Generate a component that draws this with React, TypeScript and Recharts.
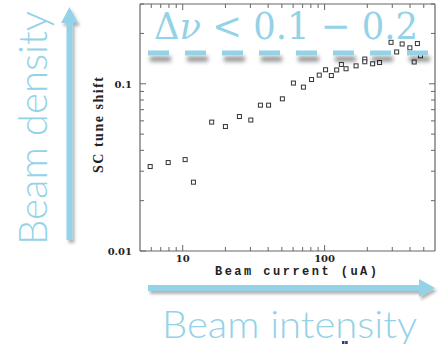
import React from 'react'
import { ScatterChart, Scatter, XAxis, YAxis } from 'recharts'

const CURRENT = [5.9, 7.9, 10.4, 11.9, 16.0, 20.0, 25.1, 30.2, 35.3, 40.3, 50.4, 60.3, 70.9, 80.9, 91.7, 101.6, 111.6, 121.7, 131.3, 141.6, 166.7, 192, 192, 218, 244, 294, 322, 352, 399, 428, 451, 474]
const TUNE_SHIFT = [0.032, 0.0338, 0.0352, 0.0258, 0.059, 0.0555, 0.0637, 0.0607, 0.0745, 0.0745, 0.0813, 0.101, 0.0955, 0.106, 0.1127, 0.1213, 0.112, 0.121, 0.1305, 0.123, 0.128, 0.1406, 0.1354, 0.1317, 0.134, 0.177, 0.155, 0.173, 0.164, 0.135, 0.174, 0.147]

const X_TICKS = [6, 7, 8, 9, 10, 20, 30, 40, 50, 60, 70, 80, 90, 100, 200, 300, 400, 500]
const X_LABELS = [10, 100]
const Y_TICKS = [0.02, 0.03, 0.04, 0.05, 0.06, 0.07, 0.08, 0.09, 0.1, 0.2, 0.3]
const Y_LABELS = [0.01, 0.1]

const data = CURRENT.map((c, i) => ({ current: c, shift: TUNE_SHIFT[i] }))

const FRAME = '#666'
const BLUE = '#93d2e7'
const tickFont = { fontFamily: '"DejaVu Serif", serif', fontWeight: 700, fontSize: 10, fill: '#222' }

const XTick = (props: any) => {
  const { x, y, payload, top } = props
  const major = X_LABELS.includes(payload.value)
  const len = major ? 6 : 4
  return (
    <g>
      <line x1={x} x2={x} y1={y} y2={top ? y + len : y - len} stroke={FRAME} />
      {!top && major && (
        <text x={x} y={y + 11} textAnchor="middle" {...tickFont}>{payload.value}</text>
      )}
    </g>
  )
}

const YTick = (props: any) => {
  const { x, y, payload, right } = props
  const major = Y_LABELS.includes(payload.value)
  const len = major ? 6 : 4
  return (
    <g>
      <line x1={x} x2={right ? x - len : x + len} y1={y} y2={y} stroke={FRAME} />
      {!right && major && (
        <text x={x - 8} y={y + 4} textAnchor="end" {...tickFont}>{payload.value}</text>
      )}
    </g>
  )
}

const Square = (props: any) => {
  const { cx, cy } = props
  return <rect x={cx - 2} y={cy - 2} width={4} height={4} fill="#fff" stroke="#333" strokeWidth={1} />
}

const Nothing = () => <g />

export default function App() {
  return (
    <div style={{ position: 'absolute', left: 0, top: 0, width: 443, height: 344, background: '#fff' }}>
      <ScatterChart width={443} height={344} margin={{ top: 3, right: 7, left: 100, bottom: 63 }}>
        <XAxis
          dataKey="current"
          type="number"
          scale="log"
          domain={[5, 600]}
          allowDataOverflow
          ticks={X_TICKS}
          interval={0}
          height={30}
          tickSize={0}
          tickMargin={0}
          stroke={FRAME}
          strokeWidth={1.2}
          tick={<XTick />}
          label={{
            content: () => (
              <text x={296} y={275} textAnchor="middle" fontFamily='"Liberation Mono", monospace' fontWeight={700} fontSize={12} fill="#222" textLength={162}>
                Beam current (uA)
              </text>
            ),
          }}
        />
        <XAxis
          xAxisId="top"
          dataKey="current"
          orientation="top"
          type="number"
          scale="log"
          domain={[5, 600]}
          allowDataOverflow
          ticks={X_TICKS}
          interval={0}
          height={1}
          tickSize={0}
          tickMargin={0}
          stroke={FRAME}
          strokeWidth={1.2}
          tick={<XTick top />}
        />
        <YAxis
          dataKey="shift"
          type="number"
          scale="log"
          domain={[0.01, 0.3]}
          allowDataOverflow
          ticks={[0.01, ...Y_TICKS]}
          interval={0}
          width={40}
          tickSize={0}
          tickMargin={0}
          stroke={FRAME}
          strokeWidth={1.2}
          tick={<YTick />}
          label={{
            content: () => (
              <text x={103} y={125} transform="rotate(-90 103 125)" textAnchor="middle" fontFamily='"Liberation Serif", serif' fontWeight={700} fontSize={14} fill="#222" textLength={96}>
                SC tune shift
              </text>
            ),
          }}
        />
        <YAxis
          yAxisId="right"
          dataKey="shift"
          orientation="right"
          type="number"
          scale="log"
          domain={[0.01, 0.3]}
          allowDataOverflow
          ticks={Y_TICKS}
          interval={0}
          width={1}
          tickSize={0}
          tickMargin={0}
          stroke={FRAME}
          strokeWidth={1.2}
          tick={<YTick right />}
        />
        <Scatter data={data} shape={<Square />} isAnimationActive={false} />
        {/* invisible copy so the mirrored top/right axes get drawn */}
        <Scatter data={data} xAxisId="top" yAxisId="right" shape={<Nothing />} isAnimationActive={false} />
      </ScatterChart>

      {/* slide annotations drawn on top of the figure */}
      <svg width={443} height={344} style={{ position: 'absolute', left: 0, top: 0, pointerEvents: 'none' }}>
        <defs>
          <filter id="sh" filterUnits="userSpaceOnUse" x={0} y={0} width={443} height={344}>
            <feDropShadow dx={2} dy={3} stdDeviation={1.5} floodColor="#000" floodOpacity={0.3} />
          </filter>
          <filter id="shLine" filterUnits="userSpaceOnUse" x={0} y={0} width={443} height={344}>
            <feDropShadow dx={2} dy={6} stdDeviation={2} floodColor="#000" floodOpacity={0.45} />
          </filter>
        </defs>
        <path d="M66.5,240 L66.5,23 L61,23 L69.5,7 L78,23 L72.5,23 L72.5,240 Z" fill={BLUE} filter="url(#sh)" />
        <path d="M148,285 L419,285 L419,279 L435,288 L419,297 L419,291 L148,291 Z" fill={BLUE} filter="url(#sh)" />
        <line x1={148} x2={430} y1={53} y2={53} stroke={BLUE} strokeWidth={5} strokeDasharray="21 16" filter="url(#shLine)" />
        <text x={47} y={128} transform="rotate(-90 47 128)" textAnchor="middle" fontFamily="Lato, 'Open Sans', sans-serif" fontWeight={300} fontSize={39} fill={BLUE} textLength={234} lengthAdjust="spacingAndGlyphs">
          Beam density
        </text>
        <text x={162} y={338} fontFamily="Lato, 'Open Sans', sans-serif" fontWeight={300} fontSize={37} fill={BLUE} textLength={255} lengthAdjust="spacingAndGlyphs">
          Beam intensity
        </text>
        <text x={154} y={39} fontFamily='"DejaVu Serif", serif' fontSize={38} fill={BLUE} textLength={264} lengthAdjust="spacingAndGlyphs">
          Δ<tspan fontStyle="italic">ν</tspan> &lt; 0.1 − 0.2
        </text>
        <rect x={342} y={341} width={2.5} height={3} fill="#1f3c88" />
        <rect x={345.2} y={341} width={2.5} height={3} fill="#1f3c88" />
      </svg>
    </div>
  )
}
